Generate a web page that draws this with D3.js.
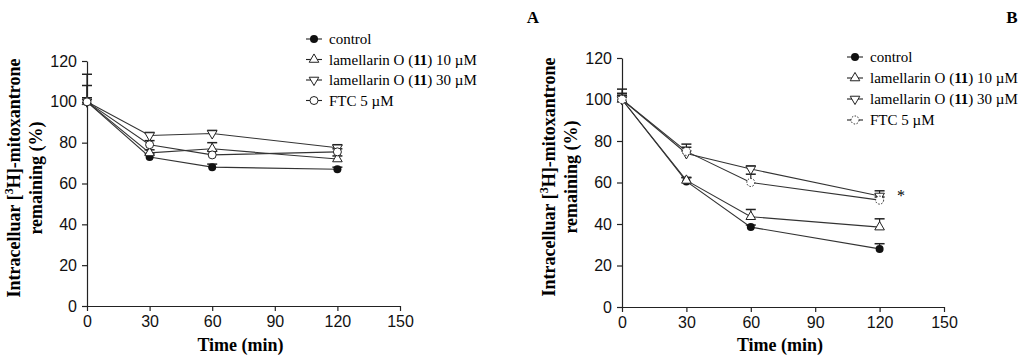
<!DOCTYPE html>
<html>
<head>
<meta charset="utf-8">
<script src="https://cdn.jsdelivr.net/npm/d3@7"></script>
<style>
  body { margin: 0; background: #fff; }
  svg { display: block; font-family: "Liberation Serif", "Times New Roman", serif; }
  .axis path, .axis line { stroke: #222; stroke-width: 1.2; }
  .axis text { font-size: 16px; fill: #111; }
</style>
</head>
<body>
<svg id="chart" width="1024" height="357"></svg>
<script>
const times = [0, 30, 60, 120];
const xTicks = [0, 30, 60, 90, 120, 150];
const yTicks = [0, 20, 40, 60, 80, 100, 120];
const seriesNames = ['control', 'lamellarin O (11) 10 µM', 'lamellarin O (11) 30 µM', 'FTC 5 µM'];
const seriesMarks = ['dot', 'up', 'down', 'ring'];

// panel A
const aControl = [100, 73, 68, 67];
const aLam10 = [100, 75, 77, 72];
const aLam30 = [100, 83.5, 84.5, 77.5];
const aFtc = [100, 79, 74, 75.5];
const aControlErr = [0, 1.5, 1.5, 1];
const aLam10Err = [8, 1.5, 3, 1.5];
const aLam30Err = [13.5, 1.5, 1.5, 1.5];
const aFtcErr = [2, 2, 2, 1.5];

// panel B
const bControl = [100, 60.5, 38.5, 28];
const bLam10 = [100, 61, 43.5, 38.5];
const bLam30 = [100, 74, 66.5, 53.5];
const bFtc = [100, 75, 60, 51.5];
const bControlErr = [2, 1.8, 1, 2.5];
const bLam10Err = [3, 1.5, 3.5, 4];
const bLam30Err = [5, 4.5, 1.5, 2.5];
const bFtcErr = [2, 2, 4, 1.5];

const svg = d3.select('#chart');

function drawPanel(opt) {
  const x = d3.scaleLinear().domain([0, 150]).range([opt.x0, opt.x1]);
  const y = d3.scaleLinear().domain([0, 120]).range([opt.y0, opt.y1]);
  const g = svg.append('g');

  g.append('g').attr('class', 'axis')
    .attr('transform', `translate(0,${opt.y0})`)
    .call(d3.axisBottom(x).tickValues(xTicks).tickSize(5).tickPadding(5).tickSizeOuter(0));
  g.append('g').attr('class', 'axis')
    .attr('transform', `translate(${opt.x0},0)`)
    .call(d3.axisLeft(y).tickValues(yTicks).tickSize(5).tickPadding(5).tickSizeOuter(0));

  // axis titles
  g.append('text')
    .attr('x', (opt.x0 + opt.x1) / 2 - 3)
    .attr('y', 351)
    .attr('text-anchor', 'middle')
    .style('font-size', '18px').style('font-weight', 'bold')
    .text('Time (min)');

  const yt = g.append('text')
    .attr('transform', `translate(${opt.x0 - 67},${opt.ymid}) rotate(-90)`)
    .attr('text-anchor', 'middle')
    .style('font-size', '18px').style('font-weight', 'bold');
  yt.append('tspan').text('Intracelluar [');
  yt.append('tspan').attr('baseline-shift', 'super').style('font-size', '12px').text('3');
  yt.append('tspan').text('H]-mitoxantrone');
  g.append('text')
    .attr('transform', `translate(${opt.x0 - 45},${opt.ymid}) rotate(-90)`)
    .attr('text-anchor', 'middle')
    .style('font-size', '18px').style('font-weight', 'bold')
    .text('remaining (%)');

  // panel letter
  g.append('text')
    .attr('x', opt.letterX).attr('y', 23)
    .attr('text-anchor', 'middle')
    .style('font-size', '17px').style('font-weight', 'bold')
    .text(opt.letter);

  const line = d3.line().x((d, i) => x(times[i])).y(d => y(d));

  // error bars (upper)
  opt.series.forEach((s, k) => {
    s.forEach((v, i) => {
      const e = opt.errs[k][i];
      if (!e) return;
      const cx = x(times[i]);
      g.append('line').attr('x1', cx).attr('x2', cx)
        .attr('y1', y(v)).attr('y2', y(v + e))
        .attr('stroke', '#222').attr('stroke-width', 1.2);
      g.append('line').attr('x1', cx - 5).attr('x2', cx + 5)
        .attr('y1', y(v + e)).attr('y2', y(v + e))
        .attr('stroke', '#222').attr('stroke-width', 1.5);
    });
  });

  opt.series.forEach(s => {
    g.append('path').datum(s)
      .attr('d', line)
      .attr('fill', 'none')
      .attr('stroke', '#333')
      .attr('stroke-width', 1.1);
  });

  opt.series.forEach((s, k) => {
    g.selectAll(null).data(s).enter().append('g')
      .attr('transform', (d, i) => `translate(${x(times[i])},${y(d)})`)
      .each(function () { marker(d3.select(this), seriesMarks[k], opt.dashRing); });
  });

  // legend
  const lg = g.append('g').attr('transform', `translate(${opt.legX},${opt.legY})`);
  seriesNames.forEach((name, i) => {
    const row = lg.append('g').attr('transform', `translate(0,${i * opt.legStep})`);
    row.append('line').attr('x1', -8).attr('x2', 8)
      .attr('stroke', '#222').attr('stroke-width', 1.1);
    marker(row.append('g'), seriesMarks[i], opt.dashRing);
    const t = row.append('text').attr('x', 15).attr('dy', '0.35em')
      .style('font-size', '15px');
    const m = name.match(/^(.*\()(11)(\).*)$/);
    if (m) {
      t.append('tspan').text(m[1]);
      t.append('tspan').style('font-weight', 'bold').text(m[2]);
      t.append('tspan').text(m[3]);
    } else {
      t.text(name);
    }
  });

  if (opt.star) {
    g.append('text')
      .attr('x', x(opt.star[0])).attr('y', y(opt.star[1]))
      .attr('text-anchor', 'middle')
      .style('font-size', '16px')
      .text('*');
  }
}

function marker(sel, type, dashRing) {
  if (type === 'dot') {
    sel.append('circle').attr('r', 4).attr('fill', '#111');
  } else if (type === 'up') {
    sel.append('path').attr('d', d3.symbol(d3.symbolTriangle, 40))
      .attr('fill', '#fff').attr('stroke', '#222').attr('stroke-width', 1);
  } else if (type === 'down') {
    sel.append('path').attr('d', d3.symbol(d3.symbolTriangle, 40))
      .attr('transform', 'rotate(180)')
      .attr('fill', '#fff').attr('stroke', '#222').attr('stroke-width', 1);
  } else {
    sel.append('circle').attr('r', 4).attr('fill', '#fff')
      .attr('stroke', '#222').attr('stroke-width', 1)
      .attr('stroke-dasharray', dashRing ? '1.5,1.5' : null);
  }
}

drawPanel({
  x0: 87, x1: 400, y0: 306, y1: 61, ymid: 178,
  series: [aControl, aLam10, aLam30, aFtc],
  errs: [aControlErr, aLam10Err, aLam30Err, aFtcErr],
  legX: 314, legY: 39, legStep: 20.5,
  letter: 'A', letterX: 533, dashRing: false
});

drawPanel({
  x0: 622, x1: 944, y0: 307, y1: 58, ymid: 177,
  series: [bControl, bLam10, bLam30, bFtc],
  errs: [bControlErr, bLam10Err, bLam30Err, bFtcErr],
  legX: 855, legY: 57, legStep: 21,
  letter: 'B', letterX: 1012, dashRing: true,
  star: [130, 51]
});
</script>
</body>
</html>
